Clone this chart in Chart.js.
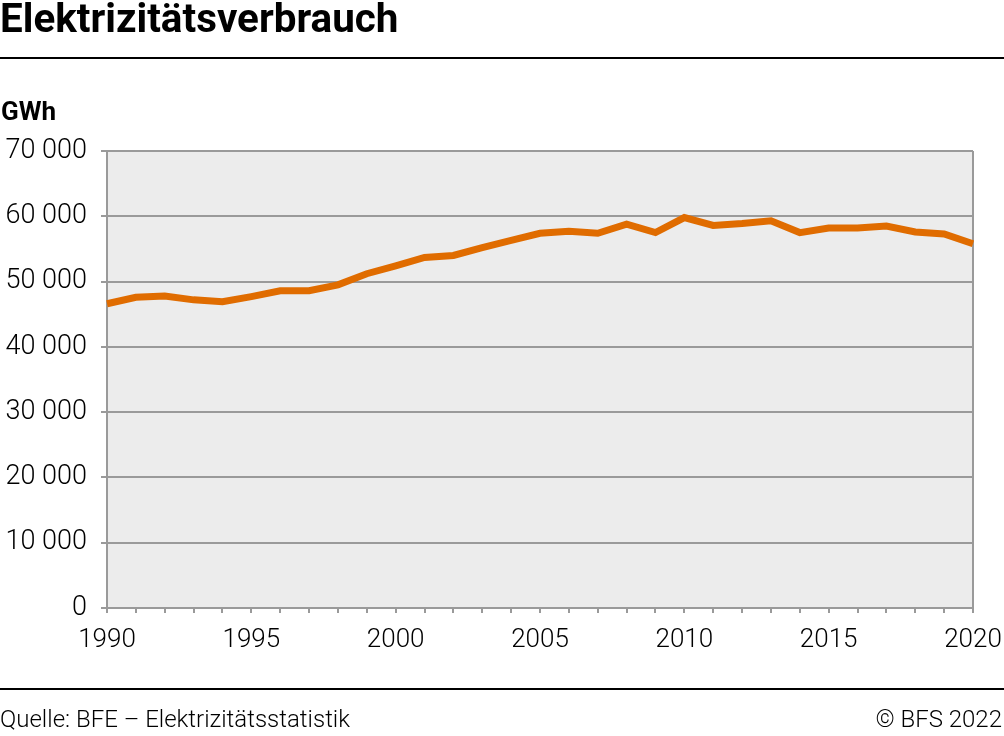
<!DOCTYPE html>
<html>
<head>
<meta charset="utf-8">
<script src="https://cdn.jsdelivr.net/npm/chart.js@4/dist/chart.umd.min.js"></script>
<style>
  body { margin: 0; background: #fff; font-family: Roboto, sans-serif; }
  #wrap { position: relative; width: 1004px; height: 736px; }
  #title { position: absolute; left: 0; top: -5px; font-size: 40.4px; font-weight: 700; color: #000; }
  .rule { position: absolute; left: 0; width: 1004px; height: 2px; background: #000; }
  #unit { position: absolute; left: 1px; top: 96px; font-size: 26px; font-weight: 700; }
  #src { position: absolute; left: 0; top: 705px; font-size: 24px; font-weight: 300; }
  #copy { position: absolute; right: 2px; top: 705px; font-size: 24px; font-weight: 300; }
  #box { position: absolute; left: 0; top: 0; width: 1004px; height: 736px; }
</style>
</head>
<body>
<div id="wrap">
  <div id="box"><canvas id="lineChart"></canvas></div>
  <div id="title">Elektrizitätsverbrauch</div>
  <div class="rule" style="top:57px"></div>
  <div id="unit">GWh</div>
  <div class="rule" style="top:688px"></div>
  <div id="src">Quelle: BFE – Elektrizitätsstatistik</div>
  <div id="copy">© BFS 2022</div>
</div>
<script>
var years = ['1990', '1991', '1992', '1993', '1994', '1995', '1996', '1997', '1998', '1999',
  '2000', '2001', '2002', '2003', '2004', '2005', '2006', '2007', '2008', '2009',
  '2010', '2011', '2012', '2013', '2014', '2015', '2016', '2017', '2018', '2019', '2020'];
var consumption = [46600, 47600, 47800, 47200, 46900, 47700, 48600, 48600, 49500, 51200,
  52400, 53700, 54000, 55200, 56300, 57400, 57700, 57400, 58800, 57500,
  59800, 58600, 58900, 59300, 57500, 58200, 58200, 58500, 57600, 57300, 55800];
var yTicks = [0, 10000, 20000, 30000, 40000, 50000, 60000, 70000];

var gridGrey = '#9a9a9a';

var plotBg = {
  id: 'plotBg',
  beforeDraw: function (chart) {
    var a = chart.chartArea, c = chart.ctx;
    c.save();
    c.fillStyle = '#ececec';
    c.fillRect(a.left, a.top, a.right - a.left, a.bottom - a.top);
    c.restore();
  }
};

function fmt(v) {
  return String(v).replace(/\B(?=(\d{3})+(?!\d))/g, ' ');
}

var ctx = document.getElementById('lineChart').getContext('2d');
var myChart = new Chart(ctx, {
  type: 'line',
  data: {
    labels: years,
    datasets: [{
      data: consumption,
      borderColor: '#e06c00',
      borderWidth: 7,
      pointRadius: 0,
      tension: 0,
      fill: false
    }]
  },
  plugins: [plotBg],
  options: {
    responsive: true,
    maintainAspectRatio: false,
    animation: false,
    layout: { padding: { top: 151, left: 0, right: 31, bottom: 70 } },
    plugins: { legend: { display: false }, tooltip: { enabled: false } },
    scales: {
      x: {
        type: 'category',
        offset: false,
        border: { display: true, color: gridGrey, width: 2 },
        grid: {
          drawOnChartArea: true,
          color: function (c) { return c.index === years.length - 1 ? gridGrey : 'rgba(0,0,0,0)'; },
          lineWidth: 2,
          tickColor: gridGrey,
          tickLength: 5,
          tickWidth: 2
        },
        ticks: {
          autoSkip: false,
          maxRotation: 0,
          color: '#000',
          font: { family: 'Roboto', size: 26, weight: '300' },
          padding: 12,
          callback: function (v, i) { return Number(years[i]) % 5 === 0 ? years[i] : ''; }
        },
        afterFit: function (s) { s.height = 58; s.paddingLeft = 0; s.paddingRight = 0; }
      },
      y: {
        min: 0,
        max: 70000,
        border: { display: true, color: gridGrey, width: 2 },
        grid: { color: gridGrey, lineWidth: 2, tickLength: 6, tickColor: gridGrey },
        afterBuildTicks: function (s) { s.ticks = yTicks.map(function (v) { return { value: v }; }); },
        ticks: {
          color: '#000',
          font: { family: 'Roboto', size: 27, weight: '300' },
          padding: 14,
          callback: function (v) { return fmt(v); }
        },
        afterFit: function (s) { s.width = 107; s.paddingTop = 0; s.paddingBottom = 0; }
      }
    }
  }
});
</script>
</body>
</html>
